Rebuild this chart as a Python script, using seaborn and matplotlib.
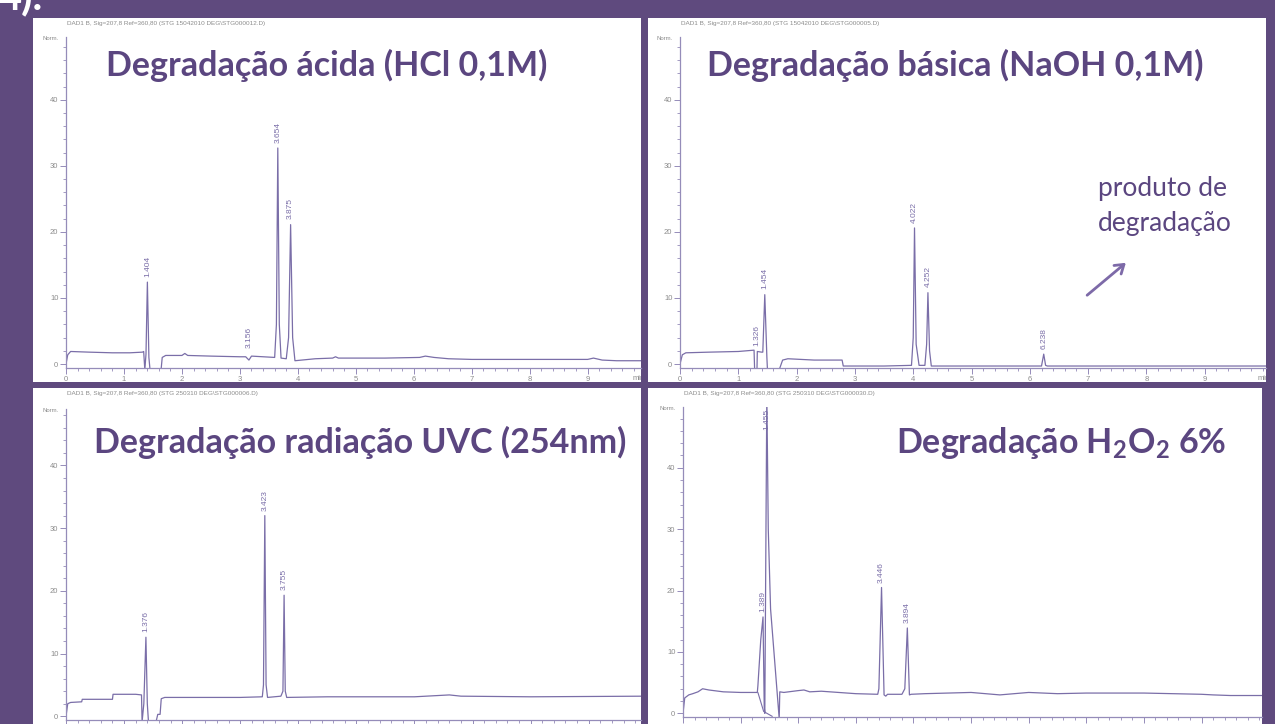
import matplotlib
matplotlib.use("Agg")
import matplotlib.pyplot as plt
import pandas as pd
import seaborn as sns
from matplotlib.ticker import MultipleLocator
from matplotlib.patches import Rectangle, FancyArrowPatch
from matplotlib.transforms import Bbox, TransformedBbox

# ---------------------------------------------------------------- data
# Acid degradation (HCl 0.1 M): retention time (min) vs signal (Norm.)
acid_t = [0.00, 0.03, 0.08, 0.40, 0.80, 1.10, 1.32, 1.34, 1.36, 1.38, 1.404, 1.43,
          1.45, 1.64, 1.66, 1.72, 2.00, 2.05, 2.10, 2.50, 3.00, 3.10, 3.156, 3.20,
          3.40, 3.60, 3.63, 3.654, 3.68, 3.71, 3.80, 3.84, 3.875, 3.91, 3.95, 4.30,
          4.60, 4.65, 4.70, 5.50, 6.10, 6.20, 6.35, 6.60, 7.00, 8.00, 9.00, 9.10,
          9.25, 9.50, 9.95]
acid_y = [0.0, 1.4, 1.9, 1.8, 1.7, 1.7, 1.8, 1.9, -0.9, 1.5, 12.4, 1.0,
          -0.9, -0.9, 1.0, 1.3, 1.3, 1.6, 1.3, 1.2, 1.1, 1.1, 0.6, 1.2,
          1.1, 1.0, 6.0, 32.7, 6.0, 0.9, 0.8, 4.0, 21.1, 4.0, 0.5, 0.8,
          0.9, 1.1, 0.9, 0.9, 1.0, 1.2, 1.0, 0.8, 0.7, 0.7, 0.7, 0.9,
          0.6, 0.5, 0.5]
acid_peak_rt = [1.404, 3.156, 3.654, 3.875]
acid_peak_h = [12.4, 1.6, 32.7, 21.1]

# Basic degradation (NaOH 0.1 M)
base_t = [0.00, 0.04, 0.10, 0.50, 1.00, 1.27, 1.28, 1.32, 1.326, 1.40, 1.42, 1.454,
          1.49, 1.50, 1.70, 1.76, 1.85, 2.30, 2.78, 2.80, 2.85, 3.50, 3.97, 4.00,
          4.022, 4.05, 4.10, 4.20, 4.23, 4.252, 4.28, 4.31, 5.00, 6.00, 6.20, 6.238,
          6.27, 6.30, 7.00, 8.00, 9.00, 10.05]
base_y = [0.0, 1.4, 1.7, 1.8, 1.9, 2.1, -0.9, -0.9, 1.9, 1.8, 1.8, 10.5,
          1.0, -0.9, -0.9, 0.6, 0.8, 0.6, 0.6, -0.3, -0.3, -0.3, -0.2, 4.0,
          20.6, 3.0, -0.2, -0.2, 3.0, 10.8, 2.0, -0.3, -0.3, -0.3, -0.3, 1.5,
          -0.2, -0.3, -0.3, -0.3, -0.3, -0.3]
base_peak_rt = [1.326, 1.454, 4.022, 4.252, 6.238]
base_peak_h = [1.9, 10.5, 20.6, 10.8, 1.5]

# UVC radiation degradation (254 nm)
uvc_t = [0.00, 0.03, 0.08, 0.27, 0.28, 0.80, 0.81, 1.20, 1.30, 1.31, 1.34, 1.376,
         1.40, 1.42, 1.55, 1.58, 1.62, 1.64, 1.70, 2.20, 3.00, 3.38, 3.40, 3.423,
         3.445, 3.47, 3.70, 3.735, 3.755, 3.775, 3.80, 4.50, 6.00, 6.40, 6.60, 6.80,
         8.00, 9.95]
uvc_y = [0.0, 2.0, 2.2, 2.3, 2.7, 2.7, 3.5, 3.5, 3.4, -0.9, 2.0, 12.6,
         2.0, -0.9, -0.9, 0.3, 0.3, 2.8, 3.0, 3.0, 3.0, 3.1, 5.0, 32.0,
         5.0, 3.0, 3.2, 4.0, 19.3, 4.0, 3.0, 3.1, 3.1, 3.3, 3.4, 3.2,
         3.1, 3.2]
uvc_peak_rt = [1.376, 3.423, 3.755]
uvc_peak_h = [12.6, 32.0, 19.3]

# Oxidative degradation (H2O2 6 %)
h2o2_t = [0.00, 0.03, 0.10, 0.17, 0.26, 0.34, 0.45, 0.70, 1.00, 1.29, 1.30, 1.35,
          1.389, 1.41, 1.42, 1.455, 1.48, 1.52, 1.67, 1.68, 1.75, 2.00, 2.10, 2.20,
          2.40, 2.70, 3.00, 3.38, 3.40, 3.446, 3.49, 3.52, 3.55, 3.80, 3.85, 3.894,
          3.93, 3.96, 4.20, 5.00, 5.50, 6.00, 6.50, 7.00, 8.00, 9.00, 9.20, 9.50,
          10.10]
h2o2_y = [0.0, 2.5, 3.0, 3.2, 3.5, 4.0, 3.8, 3.5, 3.4, 3.4, 4.5, 12.0,
          15.7, 1.0, 0.0, 52.0, 30.0, 17.0, -0.9, 3.5, 3.4, 3.7, 3.8, 3.5,
          3.6, 3.4, 3.2, 3.1, 4.0, 20.5, 3.0, 2.8, 3.1, 3.1, 4.0, 13.9,
          3.0, 3.1, 3.2, 3.4, 3.0, 3.4, 3.2, 3.3, 3.3, 3.1, 3.0, 2.9,
          2.9]
h2o2_drop_t = [1.30, 1.40, 1.55]
h2o2_drop_y = [3.4, 0.3, -0.5]
h2o2_peak_rt = [1.389, 1.455, 3.446, 3.894]
h2o2_peak_h = [15.7, 52.0, 20.5, 13.9]

titles = ["Degradação ácida (HCl 0,1M)",
          "Degradação básica (NaOH 0,1M)",
          "Degradação radiação UVC (254nm)",
          r"Degradação H$_\mathregular{2}$O$_\mathregular{2}$ 6%"]
headers = [r"DAD1 B, Sig=207,8 Ref=360,80 (STG 15042010 DEG\STG000012.D)",
           r"DAD1 B, Sig=207,8 Ref=360,80 (STG 15042010 DEG\STG000005.D)",
           r"DAD1 B, Sig=207,8 Ref=360,80 (STG 250310 DEG\STG000006.D)",
           r"DAD1 B, Sig=207,8 Ref=360,80 (STG 250310 DEG\STG000030.D)"]
y_ticks = [0, 10, 20, 30, 40]
x_ticks = list(range(10))

# ---------------------------------------------------------------- style
W, H = 1275, 724
BG = "#5f4a7e"
INK = "#5b4680"
TRACE = "#7a6ea8"
AXIS = "#958cb9"
GREY = "#8c8c8c"

sns.set_theme(style="ticks")
plt.rcParams["font.family"] = ["Lato", "DejaVu Sans"]
plt.rcParams["mathtext.fontset"] = "custom"
plt.rcParams["mathtext.rm"] = "Lato:bold"

fig = plt.figure(figsize=(W / 100, H / 100), dpi=100, facecolor=BG)


def fx(px):
    return px / W


def fy(py):
    return 1 - py / H


def px_rect(x0, y0, x1, y1):
    return [fx(x0), fy(y1), (x1 - x0) / W, (y1 - y0) / H]


# white slide panels (pixel boxes: left, top, right, bottom)
panels = [(33, 18, 641, 382), (648, 18, 1266, 382),
          (33, 388, 641, 730), (648, 388, 1262, 730)]
# plot boxes in pixels and data limits
plot_boxes = [(66, 37, 641, 368), (680, 37, 1266, 368),
              (66, 409, 641, 720), (683, 407, 1262, 717)]
xlims = [(0, 9.92), (0, 10.05), (0, 9.9), (0, 10.05)]
ylims = [(-0.6, 49.5), (-0.6, 49.5), (-0.6, 49.0), (-0.6, 49.9)]

for (x0, y0, x1, y1) in panels:
    fig.add_artist(Rectangle((fx(x0), fy(y1)), (x1 - x0) / W, (y1 - y0) / H,
                             transform=fig.transFigure, facecolor="white",
                             edgecolor="none", zorder=-5))

traces = [(acid_t, acid_y), (base_t, base_y), (uvc_t, uvc_y), (h2o2_t, h2o2_y)]
peaks = [(acid_peak_rt, acid_peak_h), (base_peak_rt, base_peak_h),
         (uvc_peak_rt, uvc_peak_h), (h2o2_peak_rt, h2o2_peak_h)]

for i in range(4):
    box = plot_boxes[i]
    ax = fig.add_axes(px_rect(*box))
    ax.set_facecolor("none")
    t, y = traces[i]
    df = pd.DataFrame({"t": t, "y": y})
    sns.lineplot(data=df, x="t", y="y", sort=False, estimator=None,
                 color=TRACE, lw=0.9, ax=ax)
    if i == 3:
        sns.lineplot(x=h2o2_drop_t, y=h2o2_drop_y, sort=False, estimator=None,
                     color=TRACE, lw=0.8, ax=ax)
    ax.set_xlim(*xlims[i])
    ax.set_ylim(*ylims[i])
    ax.set_xlabel("")
    ax.set_ylabel("")
    ax.set_xticks(x_ticks)
    ax.set_yticks(y_ticks)
    ax.xaxis.set_minor_locator(MultipleLocator(0.2))
    ax.yaxis.set_minor_locator(MultipleLocator(2))
    for s in ("top", "right"):
        ax.spines[s].set_visible(False)
    for s in ("left", "bottom"):
        ax.spines[s].set_color(AXIS)
        ax.spines[s].set_linewidth(0.9)
    ax.tick_params(which="major", direction="out", length=4, width=0.7,
                   color=AXIS, labelsize=5.5, labelcolor=GREY, pad=1.5)
    ax.tick_params(which="minor", direction="out", length=2.5, width=0.6,
                   color=AXIS)
    if i >= 2:
        # lower charts run off the slide: time labels fall below the edge
        ax.tick_params(axis="x", labelbottom=False)
    for lab in ax.get_xticklabels() + ax.get_yticklabels():
        lab.set_family("Liberation Sans")

    # retention-time labels above each peak
    top = ylims[i][1]
    for rt, h in zip(*peaks[i]):
        if h + 0.8 < top - 5:
            ax.text(rt, h + 0.8, f"{rt:.3f}", rotation=90, ha="center",
                    va="bottom", fontsize=6, color=TRACE,
                    family="Liberation Sans")
        else:
            ax.text(rt, top - 0.3, f"{rt:.3f}", rotation=90, ha="center",
                    va="top", fontsize=6, color=TRACE,
                    family="Liberation Sans")

    # signal header, unit labels
    fig.text(fx(box[0] + 1), fy(panels[i][1] + 6), headers[i], fontsize=4.6,
             color=GREY, family="Liberation Sans", ha="left", va="center")
    fig.text(fx(box[0] - 7), fy(box[1] + 1), "Norm.", fontsize=4.3,
             color=GREY, family="Liberation Sans", ha="right", va="center")
    if i < 2:
        px0, py0, px1, py1 = panels[i]
        clip = TransformedBbox(Bbox([[fx(px0), fy(py1)], [fx(px1), fy(py0)]]),
                               fig.transFigure)
        mt = fig.text(fx(box[2] - 8), fy(box[3] + 10), "min", fontsize=5.5,
                      color=GREY, family="Liberation Sans", ha="left",
                      va="center")
        mt.set_clip_box(clip)
        mt.set_clip_on(True)

# panel titles
title_pos = [(327, 76), (955, 76), (360, 453), (1061, 453)]
for (x, y), txt in zip(title_pos, titles):
    fig.text(fx(x), fy(y), txt, fontsize=24.5, fontweight="bold", color=INK,
             ha="center", va="baseline")

# annotation for the degradation product
fig.text(fx(1098), fy(196), "produto de", fontsize=19, color=INK,
         ha="left", va="baseline")
fig.text(fx(1098), fy(231), "degradação", fontsize=19, color=INK,
         ha="left", va="baseline")
fig.add_artist(FancyArrowPatch(
    (fx(1085), fy(297)), (fx(1128), fy(261)), transform=fig.transFigure,
    arrowstyle="->,head_length=6,head_width=4", color="#7d6aa8", lw=2.0))

# slide heading running off the top edge
fig.text(fx(-2), fy(9), "4).", fontsize=30, color="white", ha="left",
         va="baseline", fontweight="bold")

fig.savefig("out.png", dpi=100, facecolor=BG)
